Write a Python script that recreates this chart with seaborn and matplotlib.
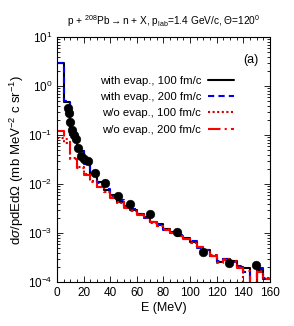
import matplotlib
matplotlib.use("Agg")
import matplotlib.pyplot as plt
import seaborn as sns
import pandas as pd
import numpy as np

# Bin edges (MeV) of the model histograms
edges=[0,5,10,15,20,25,30,35,40,45,50,55,60,65,70,75,80,85,90,95,100,
	105,110,115,120,125,130,135,140,145,150,155,160]

# with evaporation, 100 fm/c
evap_100=[3.0,0.47,0.10,0.047,0.027,0.0160,0.0108,0.0076,0.0060,0.0044,0.0036,0.0029,
	0.0025,0.0021,0.0017,0.00150,0.0012,0.00104,0.00088,0.00078,0.00065,0.00053,
	0.00046,0.00034,0.00026,0.00030,0.00027,0.000205,0.00019,0.00005,0.000178,0.000117]
# with evaporation, 200 fm/c
evap_200=[3.0,0.50,0.10,0.048,0.026,0.0165,0.0105,0.0080,0.0057,0.0047,0.0034,0.0031,
	0.0024,0.0020,0.0017,0.00145,0.00118,0.00100,0.00090,0.00074,0.00068,0.00050,
	0.00046,0.00034,0.00027,0.00030,0.00026,0.00021,0.00016,0.00005,0.00019,0.00012]
# without evaporation, 100 fm/c
noevap_100=[0.087,0.07,0.034,0.022,0.016,0.0115,0.0088,0.0068,0.0054,0.0042,0.0034,0.0028,
	0.0024,0.0020,0.00160,0.0014,0.00120,0.00100,0.00086,0.00076,0.00063,0.00053,
	0.00044,0.00035,0.00026,0.00029,0.00027,0.0002,0.00006,0.00005,0.00017,0.00012]
# without evaporation, 200 fm/c
noevap_200=[0.12,0.085,0.032,0.021,0.0155,0.0110,0.0087,0.0069,0.0051,0.0044,0.0033,0.0028,
	0.0023,0.0021,0.00165,0.0014,0.00116,0.00098,0.00086,0.00074,0.00063,0.00051,
	0.00043,0.00034,0.00025,0.00028,0.00026,0.00019,0.00017,0.00005,0.00016,0.000115]

# experimental points
exp_E=[8.5,9.0,9.8,11.5,12.8,14.3,15.5,18.0,20.5,23.5,28.5,36,45.5,55,70,90,110,129.5,149.5]
exp_val=[0.35,0.285,0.186,0.126,0.102,0.085,0.055,0.037,0.032,0.0295,0.0166,0.0107,
	0.0058,0.0040,0.00245,0.00107,0.00041,0.00024,0.000224]

series=[("with evap., 100 fm/c",evap_100,"black",(None,None)),
	("with evap., 200 fm/c",evap_200,"#0000ee",(3,2)),
	("w/o evap., 100 fm/c",noevap_100,"#cc0000",(1,1.2)),
	("w/o evap., 200 fm/c",noevap_200,"red",(6,2,1,2))]

sns.set_style("ticks")
plt.rcParams['font.family']=['Liberation Sans','DejaVu Sans']
plt.rcParams['mathtext.fontset']='custom'
plt.rcParams['mathtext.rm']='Liberation Sans'
plt.rcParams['mathtext.it']='Liberation Sans:italic'
plt.rcParams['mathtext.bf']='Liberation Sans:bold'
for key in ['text.color','axes.labelcolor','xtick.color','ytick.color','axes.edgecolor']:
	plt.rcParams[key]='black'

fig=plt.figure(figsize=(2.94,3.26),dpi=100)
ax=fig.add_axes([0.194,0.135,0.724,0.751])

# Histograms as step lines
for label,vals,color,dash in series:
	df=pd.DataFrame({"E":edges,"val":vals+[vals[-1]]})
	sns.lineplot(data=df,x="E",y="val",drawstyle="steps-post",color=color,
		lw=1.5,sort=False,estimator=None,label=label,ax=ax)
	if dash[0] is not None:
		ax.lines[-1].set_dashes(dash)

# Data points
df_exp=pd.DataFrame({"E":exp_E,"val":exp_val})
sns.scatterplot(data=df_exp,x="E",y="val",color="black",s=40,edgecolor="black",
	linewidth=0.3,zorder=5,ax=ax)

ax.set_yscale("log")
ax.set_xlim(0,160)
ax.set_ylim(1e-4,10)
ax.set_xticks(np.arange(0,161,20))
ax.xaxis.set_minor_locator(matplotlib.ticker.MultipleLocator(5))
ax.yaxis.set_minor_locator(matplotlib.ticker.LogLocator(base=10,subs=np.arange(2,10)))
ax.yaxis.set_minor_formatter(matplotlib.ticker.NullFormatter())
ax.tick_params(which="both",direction="in",top=True,right=True,labelsize=8.5,width=0.6)
ax.tick_params(which="major",length=4)
ax.tick_params(which="minor",length=2)
for s in ax.spines.values():
	s.set_linewidth(0.8)

ax.set_xlabel("E (MeV)",fontsize=9,labelpad=2)
ax.set_ylabel(r"d$\sigma$/pdEd$\Omega$ (mb MeV$^{-2}$ c sr$^{-1}$)",fontsize=9.5,labelpad=1)
ax.set_title(r"p + $^{208}$Pb$\rightarrow$n + X, p$_{\rm lab}$=1.4 GeV/c, $\Theta$=120$^0$",
	fontsize=7.3,pad=9)

ax.text(0.945,0.93,"(a)",transform=ax.transAxes,ha="right",va="top",fontsize=9)
ax.legend(loc="upper right",bbox_to_anchor=(0.87,0.875),frameon=False,markerfirst=False,
	fontsize=8.2,handlelength=2.3,labelspacing=0.55,borderaxespad=0.3,handletextpad=0.6)

fig.savefig("out.png",dpi=100)
